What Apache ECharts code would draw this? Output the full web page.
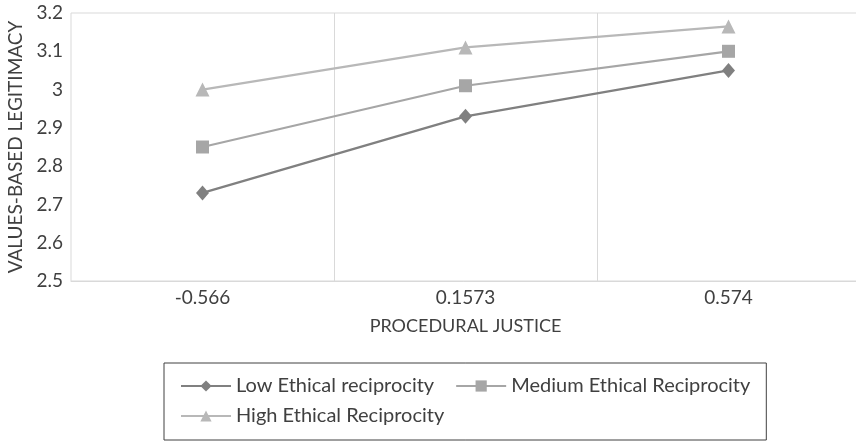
<!DOCTYPE html>
<html>
<head>
<meta charset="utf-8">
<script src="https://cdn.jsdelivr.net/npm/echarts@6/dist/echarts.min.js"></script>
<style>
  html, body { margin: 0; padding: 0; background: #ffffff; }
  #chart { width: 856px; height: 442px; }
</style>
</head>
<body>
<div id="chart"></div>
<script>
// Procedural justice levels (x categories)
const categories = ['-0.566', '0.1573', '0.574'];

// Values-based legitimacy by ethical reciprocity level
const lowEthical = [2.73, 2.93, 3.05];
const mediumEthical = [2.85, 3.01, 3.10];
const highEthical = [3.00, 3.11, 3.165];

const seriesNames = ['Low Ethical reciprocity', 'Medium Ethical Reciprocity', 'High Ethical Reciprocity'];

const FONT = 'Lato, "Open Sans", sans-serif';
const TEXT = '#404040';
const GRIDC = '#d9d9d9';

const chart = echarts.init(document.getElementById('chart'), null, { renderer: 'canvas' });

function lineSeries(name, data, color, symbol, size) {
  return {
    name: name,
    type: 'line',
    data: data,
    symbol: symbol,
    symbolSize: size,
    showSymbol: true,
    lineStyle: { color: color, width: 2.25 },
    itemStyle: { color: color },
    emphasis: { disabled: true },
    animation: false
  };
}

chart.setOption({
  backgroundColor: '#ffffff',
  animation: false,
  grid: {
    left: 71, right: -4, top: 13, bottom: 161,
    outerBoundsMode: 'none',
    containLabel: false,
    show: true, borderColor: GRIDC, borderWidth: 1, backgroundColor: 'transparent'
  },
  xAxis: {
    type: 'category',
    data: categories,
    boundaryGap: true,
    name: 'PROCEDURAL JUSTICE',
    nameLocation: 'middle',
    nameGap: 36,
    nameTextStyle: { fontFamily: FONT, fontSize: 18, color: TEXT },
    axisLine: { show: true, lineStyle: { color: GRIDC, width: 1 } },
    axisTick: { show: false },
    axisLabel: { fontFamily: FONT, fontSize: 19, color: TEXT, margin: 7 },
    splitLine: {
      show: true, showMinLine: false, showMaxLine: false,
      lineStyle: { color: GRIDC, width: 1 }
    }
  },
  yAxis: {
    type: 'value',
    min: 2.5, max: 3.2, interval: 0.1,
    name: 'VALUES-BASED LEGITIMACY',
    nameLocation: 'middle',
    nameGap: 36,
    nameTextStyle: { fontFamily: FONT, fontSize: 19, color: TEXT },
    axisLine: { show: false },
    axisTick: { show: false },
    axisLabel: { fontFamily: FONT, fontSize: 19, color: TEXT, margin: 8 },
    splitLine: { show: false }
  },
  legend: {
    data: seriesNames,
    left: 164, top: 363,
    width: 610,
    orient: 'horizontal',
    padding: [13, 5, 14, 16],
    itemGap: 10,
    itemWidth: 50,
    itemHeight: 14,
    borderColor: '#404040',
    borderWidth: 1,
    textStyle: { fontFamily: FONT, fontSize: 20, color: TEXT, lineHeight: 14, padding: [0, 11, 0, 0] },
    selectedMode: false
  },
  series: [
    lineSeries(seriesNames[0], lowEthical, '#808080', 'diamond', [13, 15]),
    lineSeries(seriesNames[1], mediumEthical, '#a6a6a6', 'rect', 13),
    lineSeries(seriesNames[2], highEthical, '#b8b8b8', 'triangle', 14)
  ]
});
</script>
</body>
</html>
